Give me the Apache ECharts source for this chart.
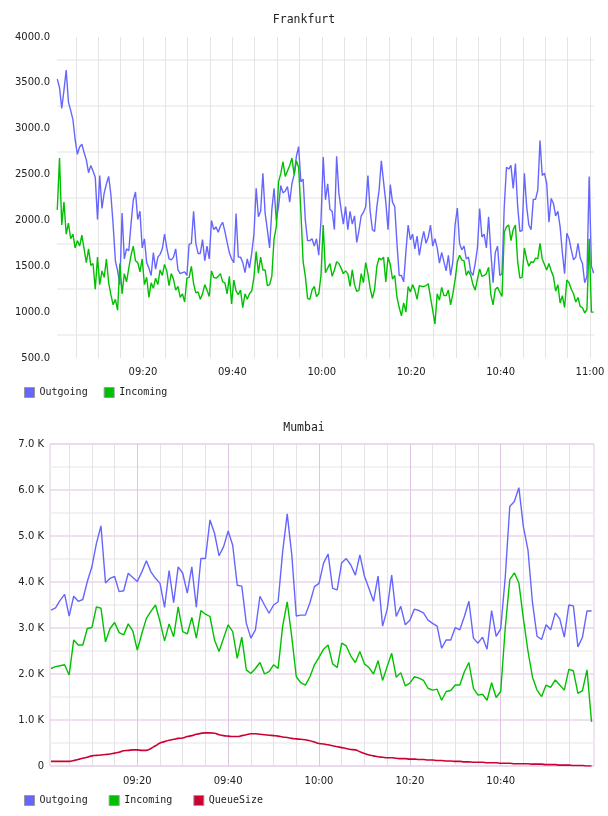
<!DOCTYPE html>
<html>
<head>
<meta charset="utf-8">
<title>Frankfurt / Mumbai</title>
<script src="https://cdn.jsdelivr.net/npm/echarts@6/dist/echarts.min.js"></script>
<style>
  html, body { margin: 0; padding: 0; background: #fff; }
  #chart { width: 608px; height: 816px; }
</style>
</head>
<body>
<div id="chart"></div>
<script>
// time is kept in minutes after 09:00
var frankfurtStart = 0.75;   // 09:00:45
var frankfurtStep = 0.5;     // 30 s
var frankfurtOutgoing = [
  3540, 3450, 3220, 3420, 3640, 3290, 3200, 3100, 2880, 2720,
  2800, 2830, 2740, 2660, 2520, 2600, 2540, 2470, 2010, 2490,
  2130, 2300, 2400, 2480, 2280, 1950, 1560, 1450, 1300, 2080,
  1580, 1690, 1670, 1960, 2220, 2310, 2010, 2100, 1700, 1800,
  1540, 1480, 1400, 1650, 1470, 1600, 1630, 1690, 1850, 1700,
  1580, 1570, 1600, 1690, 1460, 1420, 1430, 1440, 1400, 1740,
  1750, 2100, 1750, 1640, 1640, 1790, 1560, 1720, 1580, 2000,
  1900, 1930, 1870, 1940, 1980, 1880, 1760, 1650, 1580, 1540,
  2075, 1600, 1600, 1540, 1430, 1580, 1480, 1640, 1850, 2350,
  2040, 2100, 2515, 2080, 1900, 1700, 2115, 2350, 2000, 2150,
  2380, 2300, 2320, 2370, 2200, 2400, 2500, 2700, 2805, 2420,
  2450, 2000, 1780, 1780, 1800, 1720, 1800, 1620, 2000, 2690,
  2225,
  2400, 2120, 2100, 1900, 2700, 2300, 2120, 1960, 2150, 1900,
  2100, 1960, 2050, 1760, 1890, 2050, 2090, 2150, 2490, 2100,
  1900, 1880, 2150, 2330, 2650, 2420, 2200, 1900, 2390, 2200,
  2150, 1750, 1400, 1400, 1330, 1660, 1950, 1790, 1850, 1690,
  1830, 1620, 1770, 1880, 1750, 1820, 1950, 1720, 1800, 1700,
  1535, 1650, 1550, 1450, 1620, 1400, 1550, 1950, 2135, 1750,
  1680, 1720, 1580, 1600, 1440, 1400, 1530, 1700, 2130, 1820,
  1850, 1700, 2040, 1660, 1320, 1650, 1720, 1400, 1420, 2150,
  2580, 2560, 2600, 2350, 2620, 2150, 1880, 1890, 2515, 2160,
  1950, 1900, 2230, 2230, 2330, 2870, 2490, 2515, 2400, 1980,
  2240, 2185, 2050, 2100, 1930, 1650, 1420, 1860, 1800, 1680,
  1570, 1600, 1750, 1590, 1530, 1320, 1390, 2480, 1500, 1425
];
var frankfurtIncoming = [
  2115, 2680, 1950, 2200, 1850, 1970, 1800, 1850, 1700, 1780,
  1720, 1840, 1690, 1540, 1690, 1510, 1530, 1250, 1600, 1300,
  1450, 1380, 1580, 1320, 1190, 1080, 1140, 1020, 1530, 1200,
  1420, 1330, 1480, 1620, 1720, 1560, 1540, 1440, 1580, 1300,
  1380, 1160, 1320, 1260, 1370, 1300, 1460, 1400, 1520, 1450,
  1290, 1420, 1360, 1240, 1280, 1160, 1200, 1110, 1370, 1380,
  1500, 1310, 1210, 1220, 1140, 1200, 1300, 1240, 1170, 1450,
  1380, 1370, 1390, 1420, 1330, 1320, 1200, 1390, 1090, 1350,
  1230, 1190, 1240, 1050, 1200, 1140, 1200, 1230, 1380, 1660,
  1425, 1600, 1460, 1460, 1290, 1300, 1390, 1800, 1930, 2420,
  2510, 2640, 2480, 2540, 2600, 2680, 2500, 2650, 2580, 2100,
  1550, 1390, 1150, 1140, 1240, 1280, 1170, 1200, 1400, 1950,
  1430,
  1480, 1530, 1390, 1460, 1550, 1530, 1480, 1420, 1450, 1420,
  1280, 1460, 1300, 1225, 1240, 1420, 1320, 1540, 1420, 1260,
  1150, 1250, 1500, 1590, 1570, 1600, 1330, 1600, 1520, 1360,
  1400, 1160, 1050, 960, 1100, 1000, 1280, 1220, 1300, 1240,
  1140, 1290, 1280, 1280, 1290, 1310, 1160, 1020, 870, 1200,
  1130, 1270, 1180, 1180, 1240, 1080, 1200, 1350, 1550, 1620,
  1570, 1560, 1400, 1450, 1400, 1300, 1240, 1360, 1470, 1390,
  1400, 1420, 1490, 1190, 1080, 1250, 1270, 1220, 1170, 1870,
  1930, 1950, 1780, 1900, 1950, 1550, 1370, 1380, 1700, 1580,
  1500, 1550, 1540, 1590, 1580, 1750, 1580, 1520, 1460, 1530,
  1450, 1390, 1230, 1300, 1100, 1180, 1050, 1350, 1320, 1250,
  1200, 1110, 1160, 1060, 1050, 990, 1030, 1800, 1000, 1000
];

var mumbaiStart = 1;   // 09:01
var mumbaiStep = 1;    // 1 min
var mumbaiOutgoing = [
  3390, 3440, 3600, 3730, 3260, 3690, 3580, 3620, 4010, 4330,
  4840, 5220, 3980, 4080, 4120, 3790, 3810, 4190, 4100, 4010,
  4220, 4460, 4220, 4080, 3970, 3450, 4250, 3550, 4330, 4190,
  3760, 4330, 3450, 4510, 4510, 5350, 5060, 4570, 4770, 5110,
  4800, 3930, 3910, 3100, 2780, 2960, 3690, 3500, 3320, 3500,
  3570, 4660, 5480, 4600, 3260, 3280, 3280, 3550, 3900, 3970,
  4410, 4610, 3860, 3830, 4420, 4510, 4370, 4150, 4590, 4130,
  3860, 3580, 4130, 3040, 3400, 4150, 3250, 3470, 3070, 3170,
  3410, 3380, 3330, 3170, 3100, 3040, 2560, 2740, 2740, 3010,
  2960, 3250, 3580, 2780, 2670, 2800, 2540, 3380, 2820, 2980,
  4100, 5640, 5750, 6050, 5200, 4700, 3550, 2820, 2750, 3070,
  2960, 3330, 3200, 2800, 3500, 3480, 2590, 2800, 3370, 3370
];
var mumbaiIncoming = [
  2120, 2160, 2180, 2200, 1980, 2740, 2630, 2630, 2990, 3010,
  3460, 3430, 2700, 2990, 3120, 2900, 2850, 3090, 2940, 2520,
  2880, 3210, 3360, 3500, 3140, 2720, 3090, 2810, 3460, 2920,
  2870, 3230, 2780, 3380, 3300, 3250, 2740, 2490, 2780, 3070,
  2920, 2340, 2800, 2090, 2010, 2120, 2250, 2000, 2050, 2200,
  2120, 3040, 3570, 2810, 1940, 1810, 1760, 1940, 2200, 2360,
  2540, 2630, 2220, 2140, 2670, 2610, 2390, 2250, 2490, 2220,
  2140, 2000, 2290, 1860, 2160, 2450, 1930, 2030, 1740, 1800,
  1940, 1910, 1860, 1690, 1650, 1670, 1430, 1620, 1640, 1760,
  1760, 2050, 2250, 1690, 1540, 1560, 1430, 1810, 1490, 1620,
  3000, 4050, 4200, 3980, 3200, 2500, 1930, 1650, 1510, 1760,
  1710, 1870, 1760, 1650, 2100, 2070, 1580, 1640, 2090, 960
];
var mumbaiQueueSize = [
  100, 100, 100, 100, 100, 120, 140, 170, 190, 220,
  230, 240, 250, 260, 280, 300, 330, 340, 350, 350,
  340, 340, 380, 440, 500, 530, 560, 580, 600, 610,
  640, 660, 690, 710, 720, 720, 710, 680, 660, 650,
  640, 640, 660, 680, 700, 700, 690, 680, 670, 660,
  650, 630, 620, 600, 590, 580, 570, 550, 520, 490,
  480, 460, 440, 420, 400, 380, 360, 350, 310, 270,
  240, 220, 200, 190, 180, 180, 170, 160, 160, 150,
  150, 140, 140, 130, 130, 120, 120, 110, 110, 100,
  100, 90, 90, 80, 80, 80, 70, 70, 70, 60,
  60, 60, 50, 50, 50, 50, 40, 40, 40, 30,
  30, 30, 20, 20, 20, 10, 10, 10, 0, 0
];

var frankfurtTicks = ['09:20', '09:40', '10:00', '10:20', '10:40', '11:00'];
var mumbaiTicks = ['09:20', '09:40', '10:00', '10:20', '10:40'];
var legendTop = ['Outgoing', 'Incoming'];
var legendBottom = ['Outgoing', 'Incoming', 'QueueSize'];

var BLUE = '#6666ff', GREEN = '#00c000', RED = '#cc0033';
var TEXT = '#222';

function pairs(start, step, values) {
  return values.map(function (v, i) { return [start + i * step, v]; });
}

function tickFormatter(ticks) {
  return function (v) {
    if (v <= 0 || v % 20 !== 0) return '';
    return ticks[v / 20 - 1] || '';
  };
}

var titleStyle = { fontFamily: 'DejaVu Sans Mono', fontSize: 11.5, fontWeight: 'normal', color: TEXT };
var labelStyle = { fontFamily: 'DejaVu Sans', fontSize: 10, color: TEXT };
var legendText = { fontFamily: 'DejaVu Sans Mono', fontSize: 10, color: TEXT };

// split line colours, one per tick
var topH = [], topV = [], botH = [], botV = [];
for (var i = 0; i <= 14; i++) {
  topH.push(i % 2 ? '#ececec' : 'rgba(0,0,0,0)');
  botH.push(i % 2 ? '#eeeeee' : '#e8d6ea');
}
for (var j = 0; j <= 24; j++) {
  topV.push(j === 0 ? 'rgba(0,0,0,0)' : '#e4e4e4');
  botV.push(j === 0 || j === 24 ? 'rgba(0,0,0,0)' : (j % 4 === 0 ? '#dcc6e0' : '#e6e1e8'));
}

var hidden = { show: false };

var chart = echarts.init(document.getElementById('chart'));
chart.setOption({
  animation: false,
  backgroundColor: '#fff',
  title: [
    { text: 'Frankfurt', left: 'center', top: 14, padding: 0, textStyle: titleStyle },
    { text: 'Mumbai', left: 'center', top: 422, padding: 0, textStyle: titleStyle }
  ],
  legend: [
    {
      data: legendTop, left: 24, top: 387, padding: 0, orient: 'horizontal',
      icon: 'rect', itemWidth: 10, itemHeight: 10, itemGap: 16,
      itemStyle: { borderColor: '#999', borderWidth: 1 },
      textStyle: legendText, selectedMode: false
    },
    {
      data: legendBottom, left: 24, top: 795, padding: 0, orient: 'horizontal',
      icon: 'rect', itemWidth: 10, itemHeight: 10, itemGap: 21,
      itemStyle: { borderColor: '#999', borderWidth: 1 },
      textStyle: legendText, selectedMode: false
    }
  ],
  grid: [
    { left: 57, top: 37, width: 537, height: 321, outerBoundsMode: 'none' },
    { left: 53.6, top: 37, width: 536.4, height: 321, outerBoundsMode: 'none' },
    { left: 50, top: 444, width: 544, height: 322, outerBoundsMode: 'none',
      show: true, borderColor: '#dfcbe3', borderWidth: 1, backgroundColor: 'rgba(0,0,0,0)' },
    { left: 46.45, top: 444, width: 545.1, height: 322, outerBoundsMode: 'none' }
  ],
  xAxis: [
    { gridIndex: 0, type: 'value', min: 0.69, max: 120.83, show: false },
    {
      gridIndex: 1, type: 'value', min: 0, max: 120, interval: 5,
      axisLine: hidden, axisTick: hidden,
      axisLabel: Object.assign({ margin: 9, formatter: tickFormatter(frankfurtTicks) }, labelStyle),
      splitLine: { show: true, lineStyle: { color: topV, width: 1 } }
    },
    { gridIndex: 2, type: 'value', min: 0.78, max: 120.54, show: false },
    {
      gridIndex: 3, type: 'value', min: 0, max: 120, interval: 5,
      axisLine: hidden, axisTick: hidden,
      axisLabel: Object.assign({ margin: 10, formatter: tickFormatter(mumbaiTicks) }, labelStyle),
      splitLine: { show: true, lineStyle: { color: botV, width: 1 } }
    }
  ],
  yAxis: [
    {
      gridIndex: 0, type: 'value', min: 500, max: 4000, interval: 250,
      axisLine: hidden, axisTick: hidden,
      axisLabel: Object.assign({
        margin: 7,
        formatter: function (v) { return v % 500 === 0 ? v.toFixed(1) : ''; }
      }, labelStyle),
      splitLine: { show: true, lineStyle: { color: topH, width: 1.5 } }
    },
    { gridIndex: 1, type: 'value', min: 0, max: 1, show: false },
    {
      gridIndex: 2, type: 'value', min: 0, max: 7000, interval: 500,
      axisLine: hidden, axisTick: hidden,
      axisLabel: Object.assign({
        margin: 6,
        formatter: function (v) {
          if (v === 0) return '0';
          return v % 1000 === 0 ? (v / 1000).toFixed(1) + ' K' : '';
        }
      }, labelStyle),
      splitLine: { show: true, lineStyle: { color: botH, width: 1.5 } }
    },
    { gridIndex: 3, type: 'value', min: 0, max: 1, show: false }
  ],
  series: [
    {
      name: 'Outgoing', type: 'line', xAxisIndex: 0, yAxisIndex: 0,
      data: pairs(frankfurtStart, frankfurtStep, frankfurtOutgoing),
      symbol: 'none', color: BLUE, lineStyle: { color: BLUE, width: 1.4 }
    },
    {
      name: 'Incoming', type: 'line', xAxisIndex: 0, yAxisIndex: 0,
      data: pairs(frankfurtStart, frankfurtStep, frankfurtIncoming),
      symbol: 'none', color: GREEN, lineStyle: { color: GREEN, width: 1.4 }
    },
    {
      name: 'Outgoing', type: 'line', xAxisIndex: 2, yAxisIndex: 2,
      data: pairs(mumbaiStart, mumbaiStep, mumbaiOutgoing),
      symbol: 'none', color: BLUE, lineStyle: { color: BLUE, width: 1.4 }
    },
    {
      name: 'Incoming', type: 'line', xAxisIndex: 2, yAxisIndex: 2,
      data: pairs(mumbaiStart, mumbaiStep, mumbaiIncoming),
      symbol: 'none', color: GREEN, lineStyle: { color: GREEN, width: 1.4 }
    },
    {
      name: 'QueueSize', type: 'line', xAxisIndex: 2, yAxisIndex: 2,
      data: pairs(mumbaiStart, mumbaiStep, mumbaiQueueSize),
      symbol: 'none', smooth: true, color: RED, lineStyle: { color: RED, width: 1.6 }
    }
  ]
});
</script>
</body>
</html>
